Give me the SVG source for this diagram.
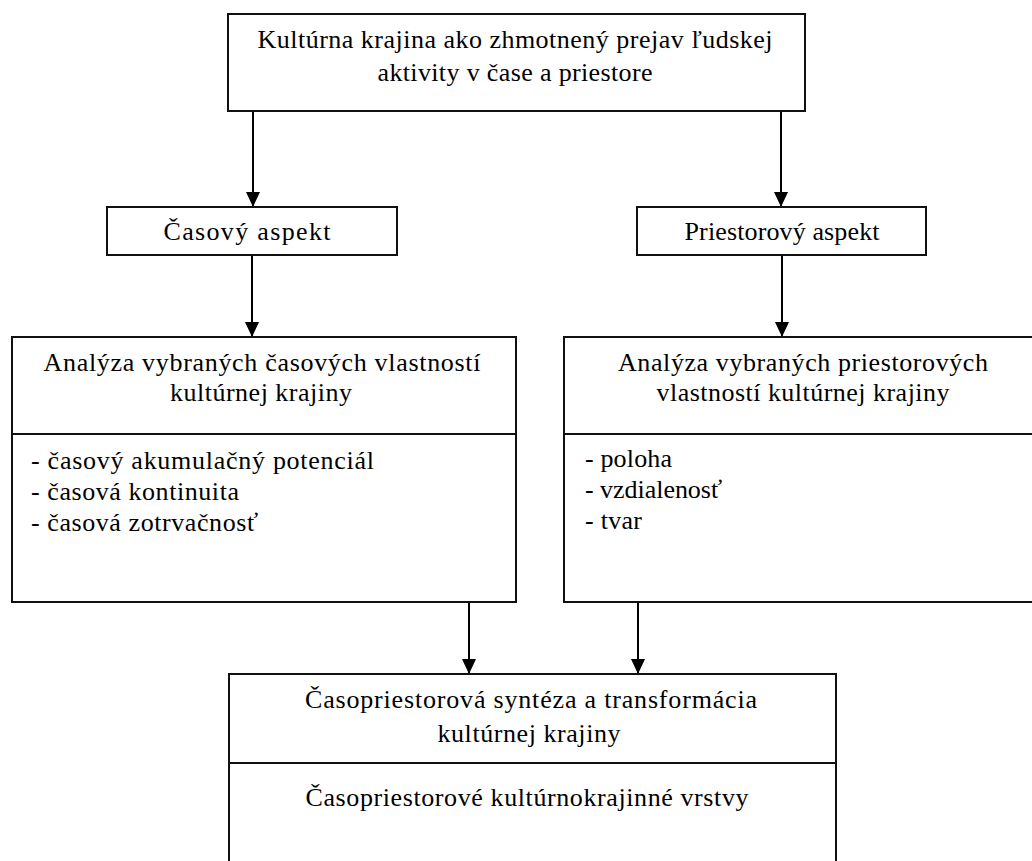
<svg xmlns="http://www.w3.org/2000/svg" width="1032" height="861" viewBox="0 0 1032 861">
<style>
  .box { fill: #fff; stroke: #111; stroke-width: 2; }
  .div { stroke: #111; stroke-width: 2; }
  .t { font-family: "Liberation Serif", "Times New Roman", serif; font-size: 26px; fill: #000; }
  .c { text-anchor: middle; }
  .edge { stroke: #000; stroke-width: 2; fill: none; marker-end: url(#arr); }
</style>
<defs>
  <marker id="arr" viewBox="0 0 15 14" refX="15" refY="7" markerWidth="15" markerHeight="14" markerUnits="userSpaceOnUse" orient="auto">
    <path d="M0,0 L15,7 L0,14 Z" fill="#000"/>
  </marker>
</defs>
<rect width="1032" height="861" fill="#fff"/>

<g id="connectors">
  <path d="M253,111 V207" class="edge"/>
  <path d="M781,111 V207" class="edge"/>
  <path d="M252,255 V337" class="edge"/>
  <path d="M782,255 V337" class="edge"/>
  <path d="M469,603 V674" class="edge"/>
  <path d="M638,603 V674" class="edge"/>
</g>

<g id="node-top">
  <rect class="box" x="228" y="14" width="577" height="97"/>
  <text class="t c" x="515" y="48" textLength="515">Kultúrna krajina ako zhmotnený prejav ľudskej</text>
  <text class="t c" x="515" y="81" textLength="275">aktivity v čase a priestore</text>
</g>

<g id="node-casovy">
  <rect class="box" x="107" y="207" width="290" height="48"/>
  <text class="t c" x="247" y="240" textLength="167">Časový aspekt</text>
</g>

<g id="node-priestorovy">
  <rect class="box" x="637" y="207" width="289" height="48"/>
  <text class="t c" x="782" y="240" textLength="195">Priestorový aspekt</text>
</g>

<g id="node-analyza-cas">
  <rect class="box" x="12" y="337" width="504" height="265"/>
  <line class="div" x1="12" y1="434" x2="516" y2="434"/>
  <text class="t c" x="262" y="371" textLength="437">Analýza vybraných časových vlastností</text>
  <text class="t c" x="261" y="401" textLength="182">kultúrnej krajiny</text>
  <text class="t" x="31" y="469" textLength="343">- časový akumulačný potenciál</text>
  <text class="t" x="31" y="500" textLength="208">- časová kontinuita</text>
  <text class="t" x="31" y="531" textLength="227">- časová zotrvačnosť</text>
</g>

<g id="node-analyza-priestor">
  <rect class="box" x="564" y="337" width="480" height="265"/>
  <line class="div" x1="564" y1="434" x2="1044" y2="434"/>
  <text class="t c" x="803" y="371" textLength="370">Analýza vybraných priestorových</text>
  <text class="t c" x="803" y="401" textLength="293">vlastností kultúrnej krajiny</text>
  <text class="t" x="585" y="467" textLength="87">- poloha</text>
  <text class="t" x="585" y="498" textLength="137">- vzdialenosť</text>
  <text class="t" x="585" y="529" textLength="57">- tvar</text>
</g>

<g id="node-synteza">
  <rect class="box" x="229" y="674" width="607" height="200"/>
  <line class="div" x1="229" y1="763" x2="836" y2="763"/>
  <text class="t c" x="531" y="708" textLength="452">Časopriestorová syntéza a transformácia</text>
  <text class="t c" x="529" y="742" textLength="183">kultúrnej krajiny</text>
  <text class="t c" x="527" y="806" textLength="443">Časopriestorové kultúrnokrajinné vrstvy</text>
</g>
</svg>
